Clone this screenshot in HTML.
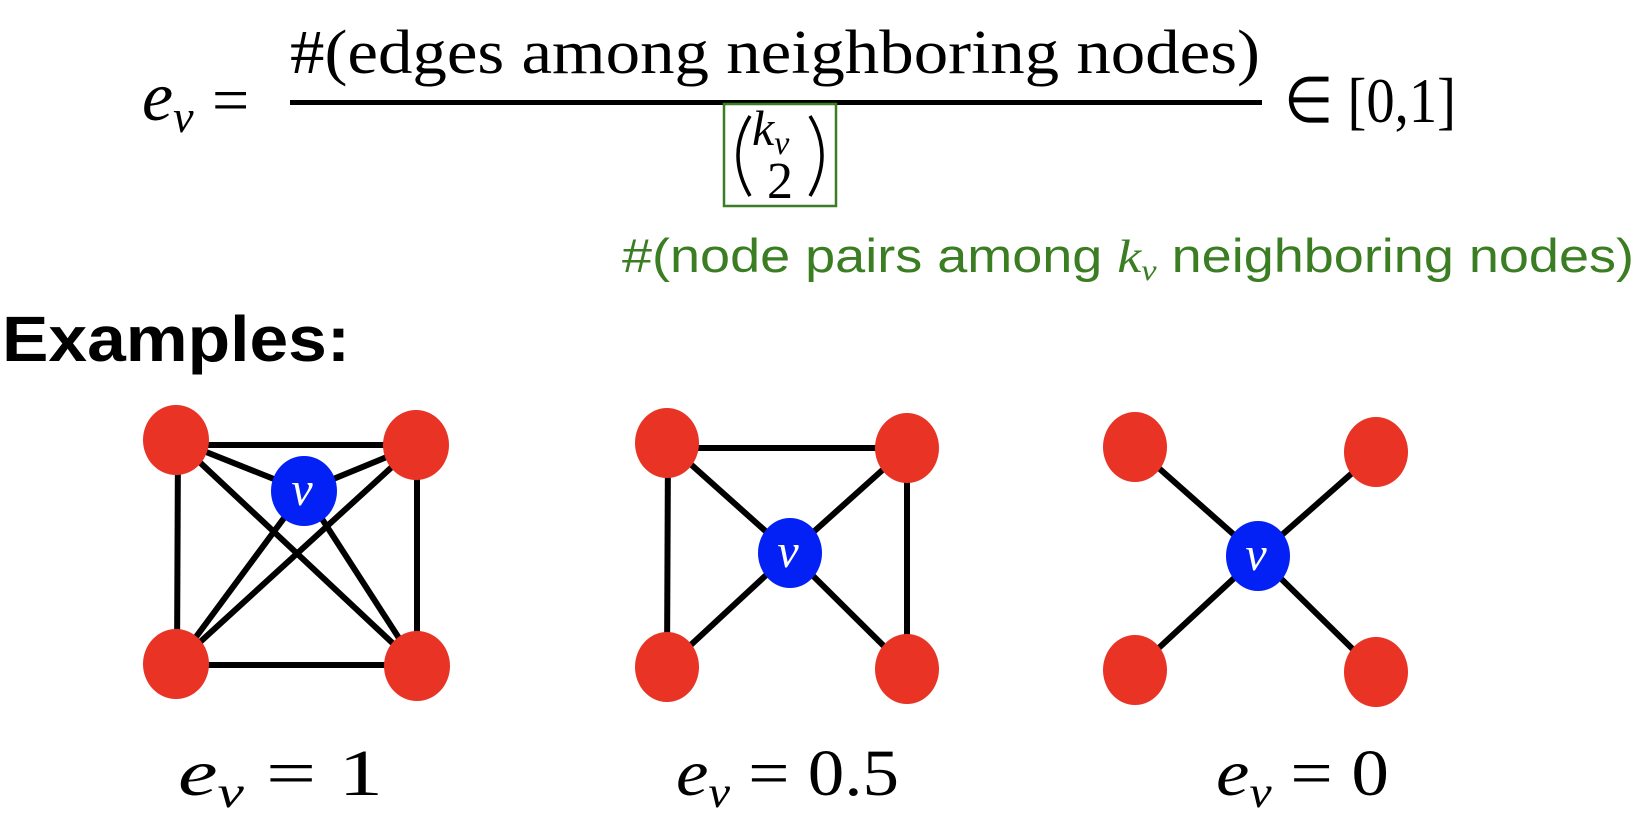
<!DOCTYPE html>
<html><head><meta charset="utf-8"><style>
html,body{margin:0;padding:0;background:#fff;}
svg{display:block;}
.m{font-family:"Liberation Serif",serif;}
</style></head><body>
<svg width="1644" height="818" viewBox="0 0 1644 818" xmlns="http://www.w3.org/2000/svg">
<!-- formula -->
<text x="142" y="120" class="m" font-size="70" font-style="italic">e<tspan font-size="46" dy="12">v</tspan></text>
<text x="212" y="122" class="m" font-size="66">=</text>
<text x="290" y="73" class="m" font-size="62" textLength="970" lengthAdjust="spacingAndGlyphs">#(edges among neighboring nodes)</text>
<rect x="290" y="100" width="972" height="5" fill="#000"/>
<rect x="724" y="104" width="112" height="102" fill="none" stroke="#3a7d22" stroke-width="2.5"/>
<path d="M750 116 Q726 155 750 196" fill="none" stroke="#000" stroke-width="3.5"/>
<path d="M810 116 Q834 155 810 196" fill="none" stroke="#000" stroke-width="3.5"/>
<text x="752" y="145" class="m" font-size="50" font-style="italic">k<tspan font-size="34" dy="9">v</tspan></text>
<text x="767" y="198" class="m" font-size="52">2</text>
<text x="1284" y="122" class="m" font-size="64" textLength="172" lengthAdjust="spacingAndGlyphs">∈ [0,1]</text>
<!-- green annotation -->
<text x="622" y="272" font-family="Liberation Sans, sans-serif" font-size="47" fill="#3a7d22" textLength="1012" lengthAdjust="spacingAndGlyphs">#(node pairs among <tspan class="m" font-style="italic">k<tspan font-size="30" dy="8">v</tspan></tspan><tspan dy="-8"> neighboring nodes)</tspan></text>
<!-- Examples -->
<text x="2" y="361" font-family="Liberation Sans, sans-serif" font-weight="bold" font-size="64" textLength="348" lengthAdjust="spacingAndGlyphs">Examples:</text>

<g stroke="#000" stroke-width="6" fill="none">
<line x1="176" y1="445" x2="416" y2="445"/>
<line x1="176" y1="665" x2="417" y2="665"/>
<line x1="178" y1="440" x2="177" y2="664"/>
<line x1="417" y1="445" x2="417" y2="666"/>
<line x1="176" y1="440" x2="304" y2="491"/>
<line x1="416" y1="445" x2="304" y2="491"/>
<line x1="176" y1="440" x2="417" y2="666"/>
<line x1="416" y1="445" x2="176" y2="664"/>
<line x1="304" y1="491" x2="176" y2="664"/>
<line x1="304" y1="491" x2="417" y2="666"/>
<line x1="667" y1="448" x2="907" y2="448"/>
<line x1="668" y1="443" x2="667" y2="667"/>
<line x1="907" y1="448" x2="907" y2="669"/>
<line x1="667" y1="443" x2="790" y2="553"/>
<line x1="907" y1="448" x2="790" y2="553"/>
<line x1="667" y1="667" x2="790" y2="553"/>
<line x1="907" y1="669" x2="790" y2="553"/>
<line x1="1135" y1="447" x2="1258" y2="556"/>
<line x1="1376" y1="452" x2="1258" y2="556"/>
<line x1="1135" y1="670" x2="1258" y2="556"/>
<line x1="1376" y1="672" x2="1258" y2="556"/>
</g>
<g fill="#e83325">
<ellipse cx="176" cy="440" rx="33" ry="35"/>
<ellipse cx="416" cy="445" rx="33" ry="35"/>
<ellipse cx="176" cy="664" rx="33" ry="35"/>
<ellipse cx="417" cy="666" rx="33" ry="35"/>
<ellipse cx="667" cy="443" rx="32" ry="35"/>
<ellipse cx="907" cy="448" rx="32" ry="35"/>
<ellipse cx="667" cy="667" rx="32" ry="35"/>
<ellipse cx="907" cy="669" rx="32" ry="35"/>
<ellipse cx="1135" cy="447" rx="32" ry="35"/>
<ellipse cx="1376" cy="452" rx="32" ry="35"/>
<ellipse cx="1135" cy="670" rx="32" ry="35"/>
<ellipse cx="1376" cy="672" rx="32" ry="35"/>
</g>
<g fill="#0320f5">
<ellipse cx="304" cy="491" rx="33" ry="35"/>
<ellipse cx="790" cy="553" rx="32" ry="35"/>
<ellipse cx="1258" cy="556" rx="32" ry="35"/>
</g>
<g class="m" font-size="48" font-style="italic" fill="#fff" text-anchor="middle">
<text x="302" y="505">v</text>
<text x="788" y="567">v</text>
<text x="1256" y="570">v</text>
</g>
<!-- bottom labels -->
<g class="m" font-size="66">
<text x="178" y="795" textLength="205" lengthAdjust="spacingAndGlyphs"><tspan font-style="italic">e</tspan><tspan font-size="44" font-style="italic" dy="12">v</tspan><tspan dy="-12"> = 1</tspan></text>
<text x="676" y="795" textLength="223" lengthAdjust="spacingAndGlyphs"><tspan font-style="italic">e</tspan><tspan font-size="44" font-style="italic" dy="12">v</tspan><tspan dy="-12"> = 0.5</tspan></text>
<text x="1216" y="795" textLength="173" lengthAdjust="spacingAndGlyphs"><tspan font-style="italic">e</tspan><tspan font-size="44" font-style="italic" dy="12">v</tspan><tspan dy="-12"> = 0</tspan></text>
</g>
</svg>
</body></html>
